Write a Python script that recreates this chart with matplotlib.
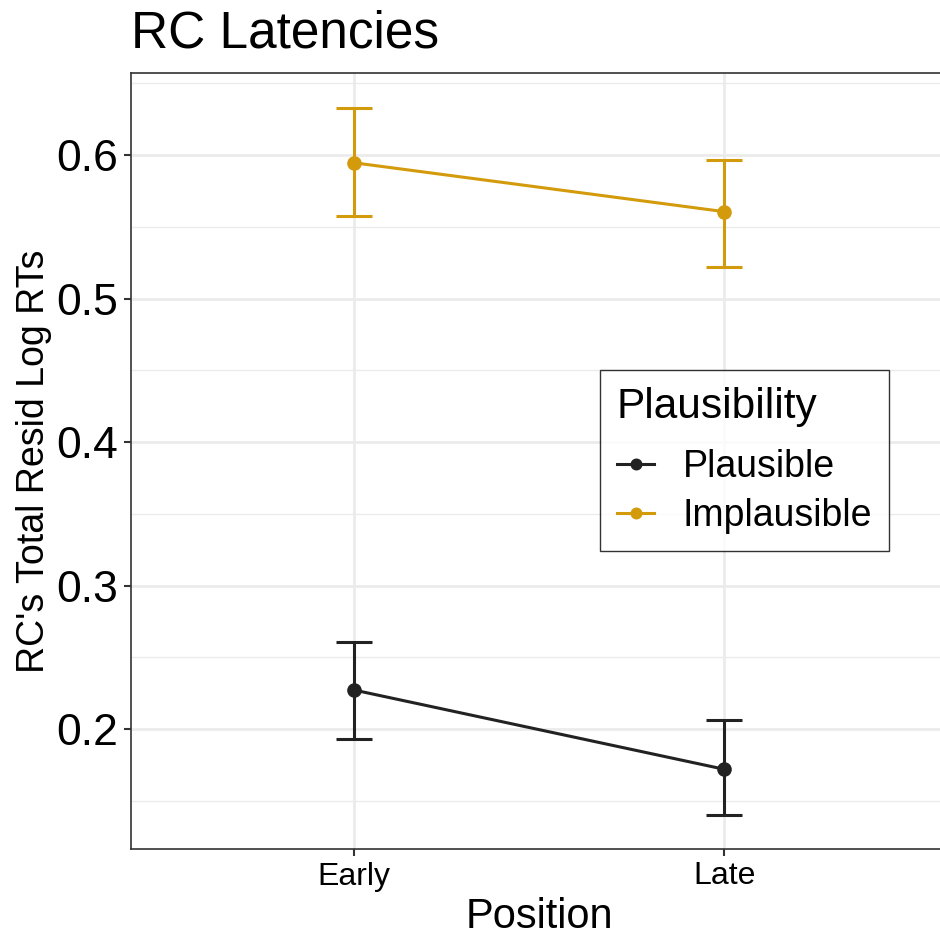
import matplotlib
matplotlib.use('Agg')
import matplotlib.pyplot as plt
import numpy as np

plt.rcParams['font.family'] = ['Liberation Sans', 'DejaVu Sans']

positions = ['Early', 'Late']
groups = ['Plausible', 'Implausible']
colors = {'Plausible': '#222222', 'Implausible': '#D39A0C'}

means = {'Plausible': [0.2274, 0.1721], 'Implausible': [0.5946, 0.5605]}
upper = {'Plausible': [0.2610, 0.2065], 'Implausible': [0.6329, 0.5965]}
lower = {'Plausible': [0.1930, 0.1403], 'Implausible': [0.5575, 0.5222]}

fig = plt.figure(figsize=(9.40, 9.39), dpi=100)
ax = fig.add_axes([131 / 940, 1 - 849 / 939, (947 - 131) / 940, (849 - 73) / 939])

x = np.arange(len(positions))
handles = []
for g in groups:
    m = np.array(means[g])
    err = [m - np.array(lower[g]), np.array(upper[g]) - m]
    ax.errorbar(x, m, yerr=err, color=colors[g], lw=2.2, capsize=13,
                capthick=2.2, elinewidth=2.2, fmt='none', zorder=3)
    h, = ax.plot(x, m, color=colors[g], lw=2.2, marker='o', ms=9.5, zorder=4,
                 label=g)
    handles.append(h)

ax.set_xlim(-0.6, 1.6)
ax.set_ylim(0.1166, 0.6571)
ax.set_xticks(x)
ax.set_xticklabels(positions)
ax.set_yticks([0.2, 0.3, 0.4, 0.5, 0.6])
ax.set_yticklabels(['0.2', '0.3', '0.4', '0.5', '0.6'])
ax.set_yticks([0.15, 0.25, 0.35, 0.45, 0.55, 0.65], minor=True)

ax.grid(True, which='major', color='#EBEBEB', lw=2.0, zorder=0)
ax.grid(True, which='minor', axis='y', color='#EBEBEB', lw=1.0, zorder=0)
ax.set_axisbelow(True)
ax.tick_params(axis='y', which='minor', length=0)
ax.tick_params(axis='both', which='major', color='#333333', length=5, width=1.5,
               pad=4)
ax.tick_params(axis='y', labelsize=32, labelcolor='black')
ax.tick_params(axis='x', labelsize=23, labelcolor='black')
for s in ax.spines.values():
    s.set_color('#333333')
    s.set_linewidth(1.2)

ax.set_xlabel('Position', fontsize=30, labelpad=4)
ax.set_ylabel("RC's Total Resid Log RTs", fontsize=27, labelpad=3)
fig.text(131 / 940, 1 - 48 / 939, 'RC Latencies', fontsize=37, ha='left',
         va='baseline')

leg = fig.legend(handles=handles, title='Plausibility', loc='upper left',
                 bbox_to_anchor=(600 / 940, 1 - 370 / 939), borderaxespad=0,
                 fontsize=27, title_fontsize=30.5, frameon=True, fancybox=False,
                 handlelength=1.0, borderpad=0.45, labelspacing=0.34,
                 handletextpad=0.75, markerscale=0.8)
leg.get_frame().set_edgecolor('black')
leg.get_frame().set_linewidth(1.0)
leg._legend_box.align = 'left'
leg._legend_box.sep = 16  # extra gap between legend title and keys

fig.savefig('out.png', dpi=100)
